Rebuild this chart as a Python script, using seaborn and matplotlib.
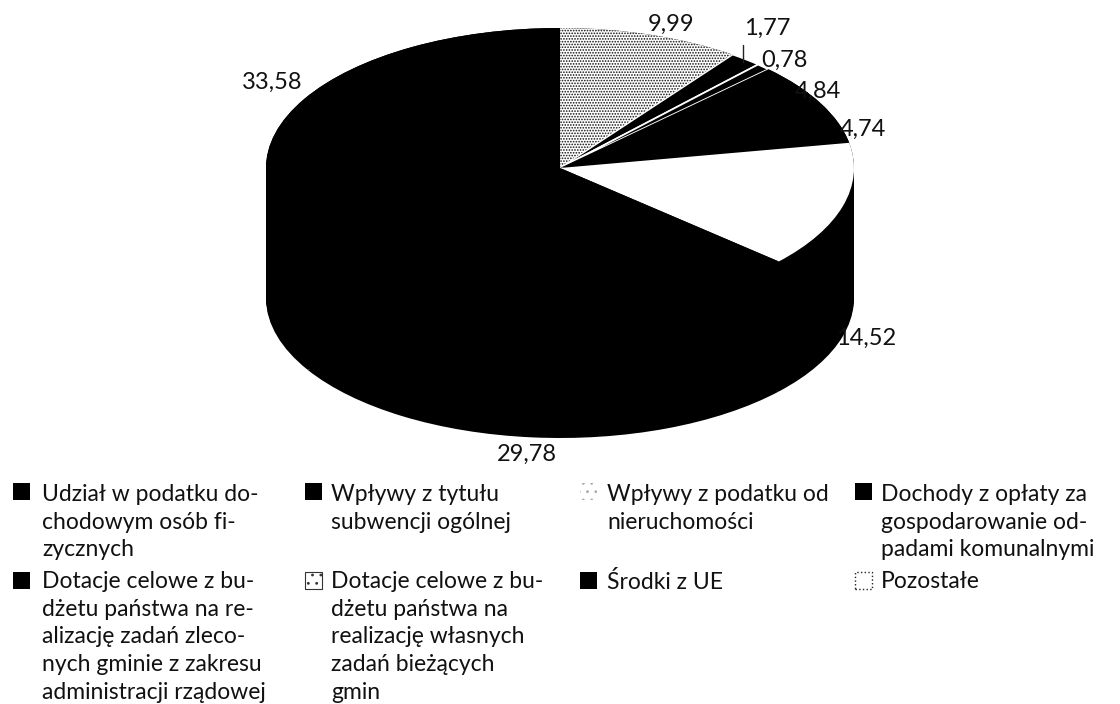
import matplotlib
matplotlib.use("Agg")
import matplotlib.pyplot as plt
from matplotlib.patches import Rectangle
import seaborn as sns

W, H = 1120, 704

values = [9.99, 1.77, 0.78, 4.84, 4.74, 14.52, 29.78, 33.58]
value_labels = ["9,99", "1,77", "0,78", "4,84", "4,74", "14,52", "29,78", "33,58"]
label_px = [(671, 24), (767, 28), (784, 60), (818, 91), (863, 129), (866, 338), (527, 454), (272, 82)]

legend_labels = [
    "Udział w podatku do-\nchodowym osób fi-\nzycznych",
    "Wpływy z tytułu\nsubwencji ogólnej",
    "Wpływy z podatku od\nnieruchomości",
    "Dochody z opłaty za\ngospodarowanie od-\npadami komunalnymi",
    "Dotacje celowe z bu-\ndżetu państwa na re-\nalizację zadań zleco-\nnych gminie z zakresu\nadministracji rządowej",
    "Dotacje celowe z bu-\ndżetu państwa na\nrealizację własnych\nzadań bieżących\ngmin",
    "Środki z UE",
    "Pozostałe",
]
legend_styles = ["black", "black", "speck", "black", "black", "hatch", "black", "white"]

sns.set_theme(style="white")
plt.rcParams["font.family"] = ["Lato", "DejaVu Sans"]
plt.rcParams["hatch.linewidth"] = 0.8

CX, CY, RX, RY, DEPTH = 560, 168, 294, 140, 130

fig = plt.figure(figsize=(W / 100, H / 100), dpi=100, facecolor="white")
ax = fig.add_axes([0, 0, 1, 1])

# side wall: stacked copies of the pie, all black
steps = 70
for i in range(steps + 1):
    ax.pie(values, colors=["black"] * len(values), startangle=90, counterclock=False,
           center=(0, -(DEPTH / RY) * i / steps), wedgeprops={"linewidth": 0})

# top face
wedges, _ = ax.pie(values, colors=["white", "black", "black", "black", "black", "white", "black", "black"],
                   startangle=90, counterclock=False, center=(0, 0), wedgeprops={"linewidth": 0})
wedges[0].set(hatch="......", edgecolor="#111111", linewidth=0)
wedges[1].set(edgecolor="white", linewidth=1.0)
wedges[2].set(edgecolor="white", linewidth=1.3)

ax.set_aspect("auto")
ax.set_xlim(-CX / RX, (W - CX) / RX)
ax.set_ylim((CY - H) / RY, CY / RY)
ax.axis("off")


def fx(x):
    return x / W


def fy(y):
    return 1 - y / H


# value labels
for txt, (x, y) in zip(value_labels, label_px):
    fig.text(fx(x), fy(y), txt, ha="center", va="center", fontsize=17, color="#111111")

# leader for 1,77
fig.add_artist(plt.Line2D([fx(743), fx(743)], [fy(45), fy(62)], color="#222222", lw=1))

# legend
col_handle = [13, 305, 580, 855]
col_text = [42, 331, 607, 881]
handle_top = [483, 572]
text_top = [484, 571]
for i, (lab, st) in enumerate(zip(legend_labels, legend_styles)):
    c, r = i % 4, i // 4
    x0, y0 = col_handle[c], handle_top[r]
    kw = dict(transform=fig.transFigure, linewidth=0)
    if st == "black":
        kw.update(facecolor="black", edgecolor="black")
    elif st == "speck":
        kw.update(facecolor="white", edgecolor="#aaaaaa", hatch="..")
    elif st == "hatch":
        kw.update(facecolor="white", edgecolor="#333333", hatch="..", linewidth=0.8)
    else:
        kw.update(facecolor="white", edgecolor="#222222", linewidth=1.0, linestyle=":")
    fig.add_artist(Rectangle((fx(x0), fy(y0 + 17)), 17 / W, 17 / H, **kw))
    fig.text(fx(col_text[c]), fy(text_top[r]), lab, ha="left", va="top", fontsize=16.5,
             linespacing=1.39, color="#111111")

fig.savefig("out.png", dpi=100, facecolor="white")
